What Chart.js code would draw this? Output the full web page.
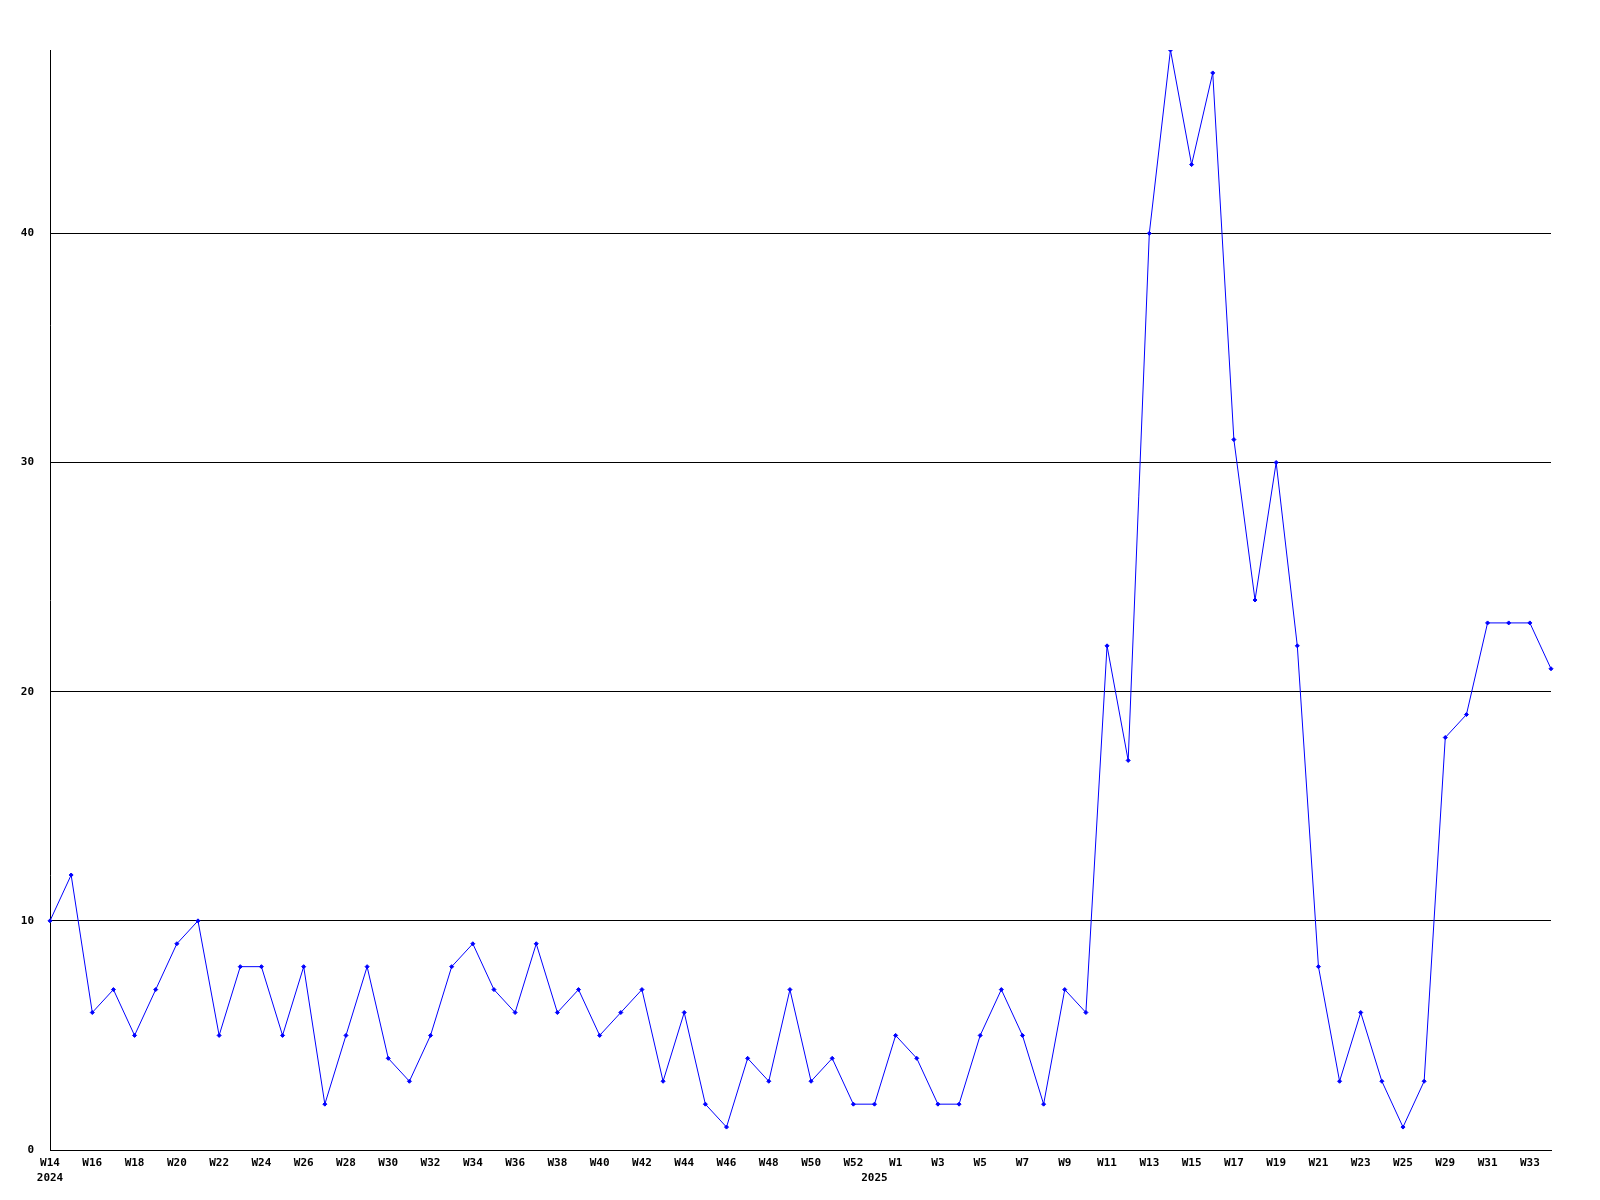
<!DOCTYPE html>
<html>
<head>
<meta charset="utf-8">
<title>Weekly count</title>
<script src="https://cdn.jsdelivr.net/npm/chart.js@4.4.0/dist/chart.umd.min.js"></script>
<style>
  body { margin: 0; background: #fff; }
  #wrap { width: 1600px; height: 1200px; }
</style>
</head>
<body>
<div id="wrap"><canvas id="chart" width="1600" height="1200"></canvas></div>
<script>
// week labels (2024 W14 .. 2025 W34)
const weeks2024 = ['W14', 'W15', 'W16', 'W17', 'W18', 'W19', 'W20', 'W21', 'W22', 'W23',
  'W24', 'W25', 'W26', 'W27', 'W28', 'W29', 'W30', 'W31', 'W32', 'W33',
  'W34', 'W35', 'W36', 'W37', 'W38', 'W39', 'W40', 'W41', 'W42', 'W43',
  'W44', 'W45', 'W46', 'W47', 'W48', 'W49', 'W50', 'W51', 'W52'];
const weeks2025 = ['W53', 'W1', 'W2', 'W3', 'W4', 'W5', 'W6', 'W7', 'W8', 'W9', 'W10',
  'W11', 'W12', 'W13', 'W14', 'W15', 'W16', 'W17', 'W18', 'W19', 'W20',
  'W21', 'W22', 'W23', 'W24', 'W25', 'W28', 'W29', 'W30', 'W31', 'W32',
  'W33', 'W34'];

const values2024 = [10, 12, 6, 7, 5, 7, 9, 10, 5, 8,
  8, 5, 8, 2, 5, 8, 4, 3, 5, 8,
  9, 7, 6, 9, 6, 7, 5, 6, 7, 3,
  6, 2, 1, 4, 3, 7, 3, 4, 2];
const values2025 = [2, 5, 4, 2, 2, 5, 7, 5, 2, 7, 6,
  22, 17, 40, 48, 43, 47, 31, 24, 30, 22,
  8, 3, 6, 3, 1, 3, 18, 19, 23, 23,
  23, 21];

const yTicks = [0, 10, 20, 30, 40];
const yMax = 48;

// first week of each year carries the year on a second line
const labels = weeks2024.map((w, i) => (i === 0 ? [w, '2024'] : w))
  .concat(weeks2025.map((w, i) => (i === 0 ? [w, '2025'] : w)));
const values = values2024.concat(values2025);

const FONT = { family: '"DejaVu Sans Mono", "Liberation Mono", monospace', size: 11, weight: 'bold', lineHeight: 1.35 };

new Chart(document.getElementById('chart'), {
  type: 'line',
  data: {
    labels: labels,
    datasets: [{
      data: values,
      borderColor: '#0000ff',
      backgroundColor: '#0000ff',
      borderWidth: 1,
      tension: 0,
      fill: false,
      pointStyle: 'rectRot',
      pointRadius: 2,
      pointBorderWidth: 1,
      pointBorderColor: '#0000ff',
      pointBackgroundColor: '#0000ff',
      pointHoverRadius: 2,
    }]
  },
  options: {
    responsive: false,
    animation: false,
    events: [],
    layout: { padding: { left: 0, top: 50, right: 49, bottom: 0 } },
    plugins: {
      legend: { display: false },
      tooltip: { enabled: false },
    },
    scales: {
      x: {
        offset: false,
        grid: { display: false, drawTicks: false },
        border: { display: true, color: '#000', width: 1 },
        ticks: {
          autoSkip: false,
          maxRotation: 0,
          color: '#000',
          font: FONT,
          padding: 6,
          callback: function (val, idx) {
            const lab = this.getLabelForValue(val);
            if (idx % 2 === 0) return lab;
            // keep the year line even when the week is skipped
            return Array.isArray(lab) ? ['', lab[1]] : '';
          },
        },
        afterFit: s => { s.height = 50; },
      },
      y: {
        min: 0,
        max: yMax,
        grid: { color: '#000', lineWidth: 1, drawTicks: false },
        border: { display: true, color: '#000', width: 1 },
        ticks: { stepSize: 10, color: '#000', font: FONT, padding: 16 },
        afterBuildTicks: s => { s.ticks = s.ticks.filter(t => yTicks.includes(t.value)); },
        afterFit: s => { s.width = 50; },
      },
    },
  },
});
</script>
</body>
</html>
